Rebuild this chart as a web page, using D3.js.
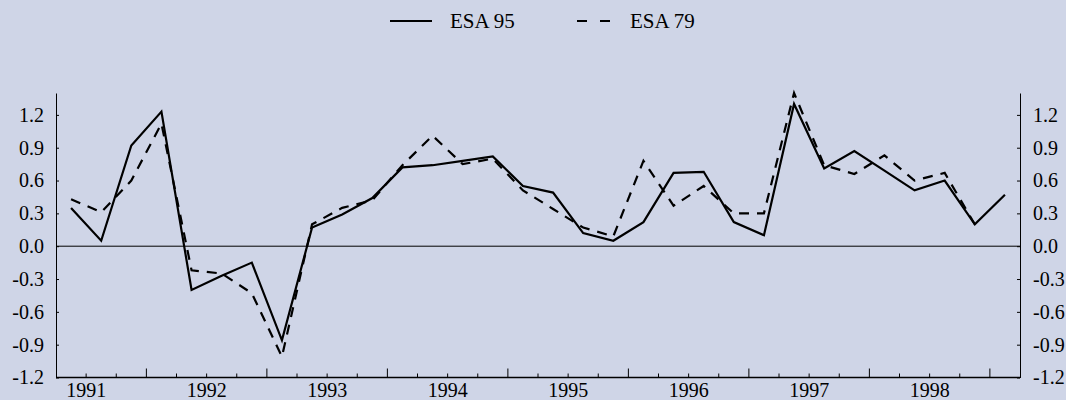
<!DOCTYPE html>
<html>
<head>
<meta charset="utf-8">
<script src="https://cdn.jsdelivr.net/npm/d3@7"></script>
<style>
  body { margin: 0; background: #cfd5e7; }
  svg { display: block; }
</style>
</head>
<body>
<svg id="chart" width="1066" height="400"></svg>
<script>
// quarters shown on the axis, 1990 Q4 .. 1998 Q3
const quarters = [
  "1990Q4",
  "1991Q1", "1991Q2", "1991Q3", "1991Q4",
  "1992Q1", "1992Q2", "1992Q3", "1992Q4",
  "1993Q1", "1993Q2", "1993Q3", "1993Q4",
  "1994Q1", "1994Q2", "1994Q3", "1994Q4",
  "1995Q1", "1995Q2", "1995Q3", "1995Q4",
  "1996Q1", "1996Q2", "1996Q3", "1996Q4",
  "1997Q1", "1997Q2", "1997Q3", "1997Q4",
  "1998Q1", "1998Q2", "1998Q3"
];

// quarter on quarter growth, ESA 95
const esa95 = [
  0.35, 0.05, 0.92, 1.23, -0.40, -0.27, -0.15, -0.86,
  0.17, 0.29, 0.44, 0.72, 0.74, 0.78, 0.82, 0.55,
  0.49, 0.12, 0.05, 0.22, 0.67, 0.68, 0.22, 0.10,
  1.30, 0.71, 0.87, 0.69, 0.51, 0.60, 0.20, 0.47
];

// ESA 79, stops one quarter earlier
const esa79 = [
  0.43, 0.31, 0.60, 1.12, -0.22, -0.25, -0.43, -1.01,
  0.20, 0.35, 0.42, 0.74, 1.01, 0.75, 0.80, 0.51,
  0.34, 0.17, 0.09, 0.78, 0.37, 0.55, 0.30, 0.30,
  1.40, 0.74, 0.66, 0.83, 0.60, 0.67, 0.20
];

const yTicks = [-1.2, -0.9, -0.6, -0.3, 0.0, 0.3, 0.6, 0.9, 1.2];
const seriesNames = ["ESA 95", "ESA 79"];

const svg = d3.select("#chart");
const plotLeft = 56, plotRight = 1020, plotTop = 93, plotBottom = 377.5;
const serif = "Liberation Serif";

const x = d3.scaleBand().domain(quarters).range([plotLeft, plotRight]).padding(0);
const y = d3.scaleLinear().domain([-1.2, 1.4]).range([plotBottom, plotTop]);
const fmt = d => d.toFixed(1);

// left and right axes, ticks pointing inwards
svg.append("g")
  .attr("transform", `translate(${plotLeft},0)`)
  .call(d3.axisLeft(y).tickValues(yTicks).tickSize(-3).tickSizeOuter(0).tickPadding(12).tickFormat(fmt))
  .attr("font-family", serif)
  .attr("font-size", 20);

svg.append("g")
  .attr("transform", `translate(${plotRight},0)`)
  .call(d3.axisRight(y).tickValues(yTicks).tickSize(-3).tickSizeOuter(0).tickPadding(13).tickFormat(fmt))
  .attr("font-family", serif)
  .attr("font-size", 20);

svg.selectAll(".domain, .tick line").attr("stroke", "#000");

// bottom axis: a tick at each quarter start, taller one mid-year
svg.append("line")
  .attr("x1", plotLeft).attr("x2", plotRight)
  .attr("y1", plotBottom).attr("y2", plotBottom)
  .attr("stroke", "#000").attr("stroke-width", 1.5);

svg.append("g").selectAll("line")
  .data(quarters.slice(1))
  .enter()
  .append("line")
  .attr("x1", d => x(d)).attr("x2", d => x(d))
  .attr("y1", plotBottom)
  .attr("y2", d => d.endsWith("Q3") ? plotBottom - 9 : plotBottom - 4)
  .attr("stroke", "#000");

svg.append("g").selectAll("text")
  .data(quarters.filter(d => d.endsWith("Q1")))
  .enter()
  .append("text")
  .attr("x", d => x(d))
  .attr("y", 397)
  .attr("text-anchor", "middle")
  .attr("font-family", serif)
  .attr("font-size", 20)
  .text(d => d.slice(0, 4));

// zero line
svg.append("line")
  .attr("x1", plotLeft).attr("x2", plotRight)
  .attr("y1", y(0)).attr("y2", y(0))
  .attr("stroke", "#000").attr("stroke-width", 1);

const line = d3.line()
  .x((d, i) => x(quarters[i]) + x.bandwidth() / 2)
  .y(d => y(d));

svg.append("path")
  .datum(esa79)
  .attr("d", line)
  .attr("fill", "none")
  .attr("stroke", "#000")
  .attr("stroke-width", 2.2)
  .attr("stroke-dasharray", "10,8");

svg.append("path")
  .datum(esa95)
  .attr("d", line)
  .attr("fill", "none")
  .attr("stroke", "#000")
  .attr("stroke-width", 2.2);

// legend
const legend = svg.append("g").attr("font-family", serif).attr("font-size", 21);
legend.append("line")
  .attr("x1", 390).attr("x2", 432).attr("y1", 21).attr("y2", 21)
  .attr("stroke", "#000").attr("stroke-width", 2.2);
legend.append("text").attr("x", 450).attr("y", 28).text(seriesNames[0]);
legend.append("line")
  .attr("x1", 577).attr("x2", 611).attr("y1", 21).attr("y2", 21)
  .attr("stroke", "#000").attr("stroke-width", 2.2)
  .attr("stroke-dasharray", "10,13");
legend.append("text").attr("x", 630).attr("y", 28).text(seriesNames[1]);
</script>
</body>
</html>
